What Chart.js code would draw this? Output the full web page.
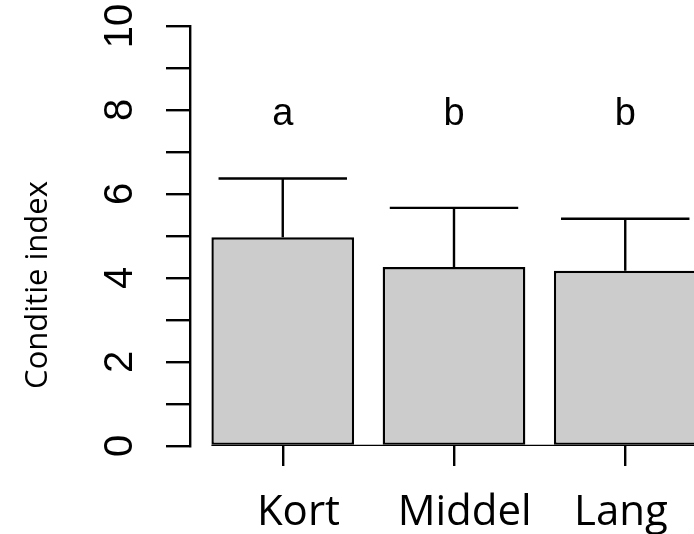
<!DOCTYPE html>
<html>
<head>
<meta charset="utf-8">
<script src="https://cdn.jsdelivr.net/npm/chart.js@4.4.1/dist/chart.umd.min.js"></script>
<style>
    html, body { margin: 0; padding: 0; background: #ffffff; overflow: hidden; }
    #wrap { width: 760px; height: 534px; }
</style>
</head>
<body>
<div id="wrap"><canvas id="conditieChart"></canvas></div>
<script>
// Groups and their bar midpoints (barplot layout: width 1, space 0.2)
const categories = ['Kort', 'Middel', 'Lang'];
const barMids = [0.7, 1.9, 3.1];
// Where the group names were placed (x, in the same units)
const labelX = [0.81, 1.975, 3.07];

// Mean condition index per group
const means = [4.97, 4.26, 4.17];

// Upper error bar length per group
const errors = [1.40, 1.41, 1.24];

// Significance letters and the height they are written at
const letters = ['a', 'b', 'b'];
const letterY = 7.9;

// Labelled y ticks (minor ticks every 1)
const yTickLabels = [0, 2, 4, 6, 8, 10];
const yTitle = 'Conditie index';

const barSpace = 0.2;
const capHalf = 0.45;
const lineW = 2.4;

// Draws error bars, letters, group names, rotated y labels and the axis title
const extras = {
    id: 'extras',
    afterDraw(chart) {
        const ctx = chart.ctx;
        const xs = chart.scales.x;
        const ys = chart.scales.y;
        ctx.save();
        ctx.strokeStyle = '#000000';
        ctx.lineWidth = lineW;

        barMids.forEach((m, i) => {
            const px = xs.getPixelForValue(m);
            const top = ys.getPixelForValue(means[i] + errors[i]);
            ctx.beginPath();
            ctx.moveTo(px, ys.getPixelForValue(means[i]));
            ctx.lineTo(px, top);
            ctx.moveTo(xs.getPixelForValue(m - capHalf), top);
            ctx.lineTo(xs.getPixelForValue(m + capHalf), top);
            ctx.stroke();
        });

        ctx.fillStyle = '#000000';
        ctx.textAlign = 'center';
        ctx.textBaseline = 'middle';
        ctx.font = '38px "Liberation Sans", Arial, sans-serif';
        letters.forEach((l, i) => {
            ctx.fillText(l, xs.getPixelForValue(barMids[i]), ys.getPixelForValue(letterY));
        });

        // group names under the axis
        ctx.textBaseline = 'alphabetic';
        ctx.font = '42px "Open Sans", sans-serif';
        categories.forEach((c, i) => {
            ctx.fillText(c, xs.getPixelForValue(labelX[i]), xs.bottom - 9);
        });

        // y tick labels are parallel to the axis
        ctx.font = '40px "Liberation Sans", Arial, sans-serif';
        yTickLabels.forEach(v => {
            ctx.save();
            ctx.translate(ys.right - 58, ys.getPixelForValue(v));
            ctx.rotate(-Math.PI / 2);
            ctx.fillText(String(v), 0, 0);
            ctx.restore();
        });

        ctx.font = '31px "Open Sans", sans-serif';
        ctx.save();
        ctx.translate(47, 285);
        ctx.rotate(-Math.PI / 2);
        ctx.fillText(yTitle, 0, 0);
        ctx.restore();

        ctx.restore();
    }
};

const ctx = document.getElementById('conditieChart').getContext('2d');
new Chart(ctx, {
    type: 'bar',
    data: {
        datasets: [{
            data: barMids.map((m, i) => ({x: m, y: means[i]})),
            backgroundColor: '#cccccc',
            borderColor: '#000000',
            borderWidth: lineW,
            borderSkipped: false,
            categoryPercentage: 1,
            barPercentage: 1 / (1 + barSpace),
        }, {
            // baseline along the bottom of the bars
            type: 'line',
            data: [
                {x: barMids[0] - 0.5, y: 0},
                {x: barMids[barMids.length - 1] + 0.5, y: 0},
            ],
            borderColor: '#000000',
            borderWidth: lineW,
            pointRadius: 0,
        }],
    },
    options: {
        responsive: true,
        maintainAspectRatio: false,
        animation: false,
        events: [],
        layout: {
            padding: {top: 26, right: 42, bottom: 0, left: 0},
        },
        scales: {
            x: {
                type: 'linear',
                min: 0.05,
                max: 3.75,
                offset: false,
                afterBuildTicks: axis => axis.ticks = barMids.map(v => ({value: v})),
                afterFit: scale => { scale.height = 88; },
                border: {display: false},
                grid: {
                    offset: false,
                    drawOnChartArea: false,
                    drawTicks: true,
                    tickLength: 20,
                    color: '#000000',
                    lineWidth: lineW,
                },
                ticks: {
                    display: false,
                },
            },
            y: {
                min: 0,
                max: 10,
                afterFit: scale => { scale.width = 190; },
                border: {display: true, color: '#000000', width: lineW},
                grid: {
                    drawOnChartArea: false,
                    drawTicks: true,
                    tickLength: 24,
                    color: '#000000',
                    lineWidth: lineW,
                },
                ticks: {
                    stepSize: 1,
                    display: false,
                },
            },
        },
        plugins: {
            legend: {display: false},
            tooltip: {enabled: false},
        },
    },
    plugins: [extras],
});
</script>
</body>
</html>
